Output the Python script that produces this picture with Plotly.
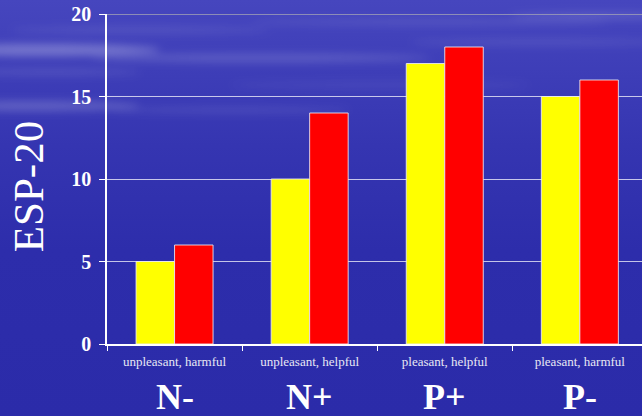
import base64
import plotly.graph_objects as go

# Data
categories = ["unpleasant, harmful", "unpleasant, helpful", "pleasant, helpful", "pleasant, harmful"]
group_codes = ["N-", "N+", "P+", "P-"]
series_yellow = [5, 10, 17, 15]
series_red = [6, 14, 18, 16]
y_ticks = [0, 5, 10, 15, 20]

W, H = 642, 416
L, R, T, B = 107, 0, 14, 72
plot_w = W - L - R
plot_h = H - T - B

# Blue slide background with soft light streaks
svg = f"""<svg xmlns='http://www.w3.org/2000/svg' width='{W}' height='{H}'>
<defs>
<linearGradient id='g' x1='0' y1='0' x2='0' y2='1'>
<stop offset='0' stop-color='#4646be'/>
<stop offset='0.35' stop-color='#3535b1'/>
<stop offset='0.6' stop-color='#2d2dab'/>
<stop offset='1' stop-color='#2b2ba9'/>
</linearGradient>
<filter id='b' x='-50%' y='-50%' width='200%' height='200%'><feGaussianBlur stdDeviation='4'/></filter>
</defs>
<rect width='{W}' height='{H}' fill='url(#g)'/>
<g filter='url(#b)' fill='#ffffff'>
<ellipse cx='40' cy='50' rx='120' ry='6' opacity='0.28'/>
<ellipse cx='260' cy='58' rx='170' ry='4' opacity='0.16'/>
<ellipse cx='430' cy='22' rx='180' ry='3' opacity='0.1'/>
<ellipse cx='600' cy='16' rx='90' ry='3' opacity='0.16'/>
<ellipse cx='30' cy='106' rx='110' ry='5' opacity='0.2'/>
<ellipse cx='230' cy='110' rx='120' ry='3' opacity='0.1'/>
<ellipse cx='540' cy='42' rx='130' ry='3' opacity='0.1'/>
<ellipse cx='140' cy='30' rx='130' ry='3' opacity='0.1'/>
<ellipse cx='380' cy='85' rx='150' ry='3' opacity='0.07'/>
<ellipse cx='50' cy='72' rx='90' ry='3' opacity='0.12'/>
</g>
</svg>"""
bg_uri = "data:image/svg+xml;base64," + base64.b64encode(svg.encode()).decode()

serif = "Liberation Serif, Times New Roman, serif"
bar_outline = dict(color="rgba(235,235,245,0.85)", width=1)

fig = go.Figure()
fig.add_trace(go.Bar(x=categories, y=series_yellow, marker=dict(color="#ffff00", line=bar_outline)))
fig.add_trace(go.Bar(x=categories, y=series_red, marker=dict(color="#ff0000", line=bar_outline)))

fig.update_layout(
    width=W, height=H,
    margin=dict(l=L, r=R, t=T, b=B, pad=0),
    paper_bgcolor="#2d2dab",
    plot_bgcolor="rgba(0,0,0,0)",
    barmode="group",
    bargap=0.43,
    bargroupgap=0,
    showlegend=False,
    font=dict(family=serif, color="white"),
    images=[dict(
        source=bg_uri, xref="paper", yref="paper",
        x=-L / plot_w, y=(plot_h + T) / plot_h,
        sizex=W / plot_w, sizey=H / plot_h,
        sizing="stretch", xanchor="left", yanchor="top", layer="below",
    )],
    xaxis=dict(
        range=[-0.5, 3.46],
        showline=True, linecolor="white", linewidth=1.5,
        ticks="outside", tickson="boundaries", ticklen=5, tickcolor="white", tickwidth=1,
        tickfont=dict(family=serif, size=13, color="#e8e8f4"),
        ticklabelstandoff=5,
        showgrid=False,
    ),
    yaxis=dict(
        range=[0, 20], tickvals=y_ticks,
        showline=True, linecolor="white", linewidth=1.5,
        ticks="outside", ticklen=6, tickcolor="white", tickwidth=1,
        tickfont=dict(family=serif, size=20, color="white", weight="bold"),
        ticklabelstandoff=4,
        showgrid=True, gridcolor="rgba(255,255,255,0.72)", gridwidth=1,
        zeroline=False,
    ),
)

# Top gridline in grey
fig.add_shape(type="line", xref="paper", yref="y", x0=0, x1=1,
              y0=y_ticks[-1], y1=y_ticks[-1], line=dict(color="#a4a4b4", width=1.5))

# Axis title
fig.add_annotation(text="ESP-20", xref="paper", yref="paper", x=0, y=0.475,
                   xshift=-79, textangle=-90, showarrow=False,
                   xanchor="center", yanchor="middle",
                   font=dict(family=serif, size=43, color="white"))

# Group codes under each category
for cat, code in zip(categories, group_codes):
    fig.add_annotation(text=f"<b>{code}</b>", x=cat, y=0, xref="x", yref="y",
                       yshift=-53, showarrow=False, yanchor="middle",
                       font=dict(family=serif, size=36, color="white"))

fig.write_html("out.html")
